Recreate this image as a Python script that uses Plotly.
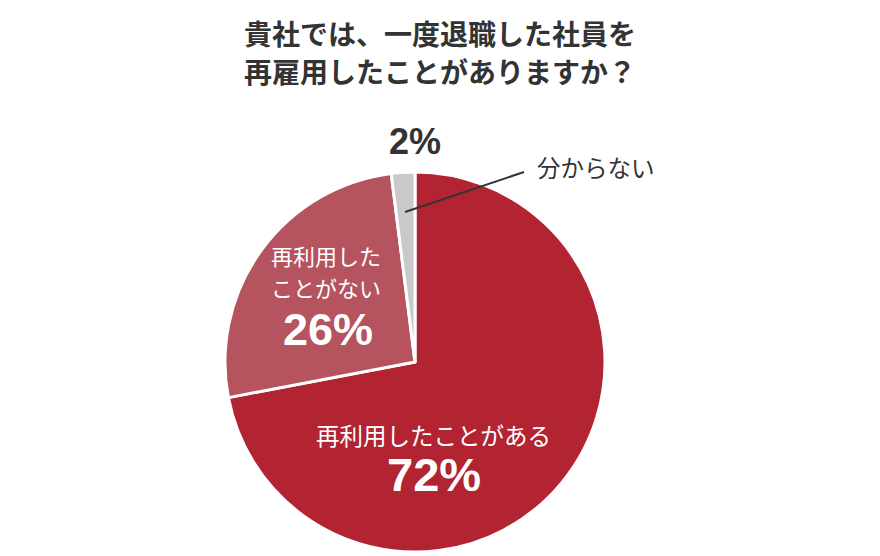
import plotly.graph_objects as go

# page has an 8px body margin; figure coordinates = reference pixels - OFF
OFF = 8
W, H = 880 - OFF, 556 - OFF

labels = ["再利用したことがある", "再利用したことがない", "分からない"]
values = [72, 26, 2]
pct_text = ["72%", "26%", "2%"]
label_lines = [["再利用したことがある"], ["再利用した", "ことがない"], ["分からない"]]
colors = ["#B22432", "#B5535F", "#C9C9C9"]
title_lines = ["貴社では、一度退職した社員を", "再雇用したことがありますか？"]

FONT = "Noto Sans CJK JP, Noto Sans, sans-serif"
NUMFONT = "Liberation Sans, Arial, sans-serif"
DARK = "#333333"


def px(x, y):
    return (x - OFF) / W, 1 - (y - OFF) / H


cx, cy, r = 415, 362, 190
dx0, dy1 = px(cx - r, cy - r)
dx1, dy0 = px(cx + r, cy + r)

fig = go.Figure()
fig.add_trace(go.Pie(
    labels=labels, values=values, sort=False, direction="clockwise", rotation=0,
    marker=dict(colors=colors, line=dict(color="white", width=3)),
    textinfo="none", hoverinfo="label+percent", showlegend=False,
    domain=dict(x=[dx0, dx1], y=[max(dy0, 0), dy1]),
))

anns = []
for line, ty in zip(title_lines, [33, 71]):
    x, y = px(440, ty)
    anns.append(dict(x=x, y=y, text="<b>%s</b>" % line, font=dict(size=28, color=DARK, family=FONT)))

lab_pos = [[(433, 435)], [(326, 255), (326, 287)], [(596, 167)]]
lab_size = [23.5, 22, 23.5]
lab_col = ["white", "white", DARK]
for lines, poss, c, s in zip(label_lines, lab_pos, lab_col, lab_size):
    for t, (lx, ly) in zip(lines, poss):
        x, y = px(lx, ly)
        anns.append(dict(x=x, y=y, text=t, font=dict(size=s, color=c, family=FONT)))

pct_pos = [(434, 474), (328, 329), (415, 141)]
pct_size = [47, 45, 36]
for t, (lx, ly), c, s in zip(pct_text, pct_pos, lab_col, pct_size):
    x, y = px(lx, ly)
    anns.append(dict(x=x, y=y, text="<b>%s</b>" % t, font=dict(size=s, color=c, family=NUMFONT)))

for a in anns:
    a.update(xref="paper", yref="paper", showarrow=False, xanchor="center", yanchor="middle")

x0, y0 = px(405, 212)
x1, y1 = px(524, 172)
fig.add_shape(type="line", xref="paper", yref="paper", x0=x0, y0=y0, x1=x1, y1=y1,
              line=dict(color=DARK, width=2))

fig.update_layout(
    width=W, height=H, margin=dict(l=0, r=0, t=0, b=0),
    paper_bgcolor="white", plot_bgcolor="white",
    annotations=anns, font=dict(family=FONT),
)
fig.write_html("out.html")
